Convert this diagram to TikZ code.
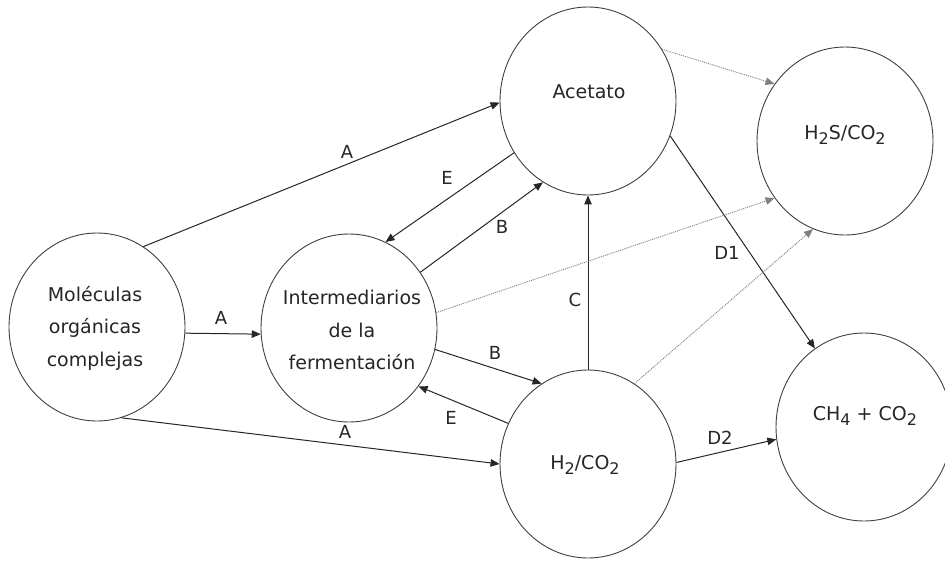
\documentclass[tikz,border=0pt]{standalone}
\usepackage{fontspec}
\setmainfont{DejaVu Sans}
\usetikzlibrary{arrows.meta,shapes.geometric}
\newcommand\subs[1]{\raisebox{-0.4ex}{\fontsize{16}{16}\selectfont #1}}
\begin{document}
\begin{tikzpicture}[x=1pt,y=-1pt,
  stage/.style={draw=black!75, line width=0.9pt, ellipse, minimum width=176pt, minimum height=188pt, inner sep=0pt},
  txt/.style={font=\fontsize{19}{32.5}\selectfont, align=center, inner sep=0pt, text=black!85},
  flow/.style={draw=black!85, line width=1pt, -{Triangle[length=9pt,width=7.5pt]}},
  side/.style={draw=black!50, line width=0.9pt, dash pattern=on 1pt off 1pt, -{Triangle[length=9pt,width=7.5pt]}},
  lbl/.style={font=\fontsize{18}{18}\selectfont, inner sep=0pt, text=black!85}]
\fill[white] (0,0) rectangle (945,563);
\useasboundingbox (0,0) rectangle (945,563);

% stages
\node[stage] (mol)   at (97,327)  {};
\node[stage] (inter) at (349,328) {};
\node[stage] (acet)  at (588,101) {};
\node[stage] (hs)    at (845,141) {};
\node[stage] (hh)    at (588,464) {};
\node[stage] (ch)    at (864,427) {};

% texts
\node[txt] (molt)   at (95,328)  {Moléculas\\orgánicas\\complejas};
\node[txt] (intert) at (352,330) {Intermediarios\\de la\\fermentación};
\node[txt] (acett)  at (589,92)  {Acetato};
\node[txt] (hst)    at (845,135) {H\subs{2}S/CO\subs{2}};
\node[txt] (hht)    at (585,465) {H\subs{2}/CO\subs{2}};
\node[txt] (cht)    at (865,416) {CH\subs{4} + CO\subs{2}};

% solid connectors
\draw[flow] (mol.60)   -- (acet.181);
\draw[flow] (mol.-4)   -- (inter.184);
\draw[flow] (mol.-75)  -- (hh.180);
\draw[flow] (acet.215) -- (inter.67);
\draw[flow] (inter.38) -- (acet.241);
\draw[flow] (inter.-14) -- (hh.120);
\draw[flow] (hh.153)   -- (inter.-40);
\draw[flow] (hh.north) -- (acet.south);
\draw[flow] (acet.-23) -- (ch.122);
\draw[flow] (hh.1)     -- (ch.188);

% dotted connectors
\draw[side] (acet.35)  -- (hs.141);
\draw[side] (inter.10) -- (hs.219);
\draw[side] (hh.60)    -- (hs.250);

% labels
\node[lbl] (la1) at (347,152) {A};
\node[lbl] (la2) at (221,318) {A};
\node[lbl] (la3) at (345,432) {A};
\node[lbl] (le1) at (447,178) {E};
\node[lbl] (lb1) at (502,227) {B};
\node[lbl] (lb2) at (495,353) {B};
\node[lbl] (le2) at (451,418) {E};
\node[lbl] (lc)  at (575,300) {C};
\node[lbl] (ld1) at (727,253) {D1};
\node[lbl] (ld2) at (720,438) {D2};
\end{tikzpicture}
\end{document}
